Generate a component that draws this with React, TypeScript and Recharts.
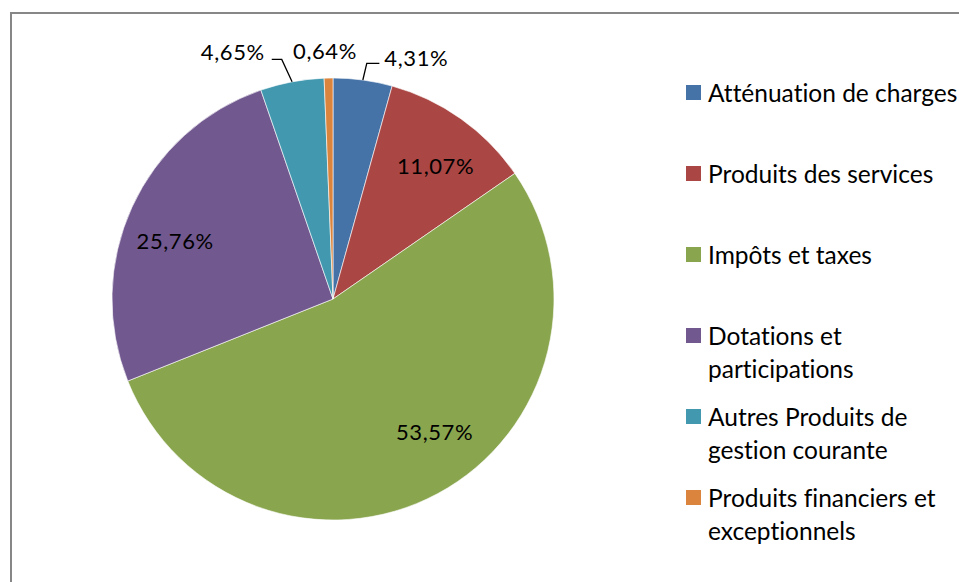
import React from 'react';
import { PieChart, Pie, Cell, Legend } from 'recharts';

const categories = [
  'Atténuation de charges',
  'Produits des services',
  'Impôts et taxes',
  'Dotations et participations',
  'Autres Produits de gestion courante',
  'Produits financiers et exceptionnels',
];
const shares = [4.31, 11.07, 53.57, 25.76, 4.65, 0.64];
const shareLabels = ['4,31%', '11,07%', '53,57%', '25,76%', '4,65%', '0,64%'];
const colors = ['#4572A7', '#AA4643', '#89A54E', '#71588F', '#4198AF', '#DB843D'];

const data = categories.map((name, i) => ({ name, value: shares[i] }));

const FONT = 'Lato, "Open Sans", sans-serif';
const RAD = Math.PI / 180;
const polar = (cx: number, cy: number, r: number, a: number) => ({
  x: cx + r * Math.cos(-a * RAD),
  y: cy + r * Math.sin(-a * RAD),
});

// small angular nudges imitating Excel's "best fit" placement of inside labels
const insideShift: Record<number, number> = { 1: -2.2, 2: 9, 3: 4.6 };

const renderLabel = (props: any) => {
  const { cx, cy, midAngle, outerRadius, index, percent } = props;
  const text = shareLabels[index];
  const common = { fill: '#000', fontFamily: FONT, fontSize: 22, letterSpacing: 0.6 } as any;
  if (percent >= 0.08) {
    const p = polar(cx, cy, outerRadius * 0.76, midAngle + (insideShift[index] || 0));
    return (
      <text key={`l${index}`} x={p.x} y={p.y + 7.5} textAnchor="middle" {...common}>
        {text}
      </text>
    );
  }
  if (percent < 0.01) {
    const p = polar(cx, cy, outerRadius + 27, midAngle);
    return (
      <text key={`l${index}`} x={p.x - 3} y={p.y + 7.5} textAnchor="middle" {...common}>
        {text}
      </text>
    );
  }
  const p0 = polar(cx, cy, outerRadius, midAngle);
  const left = p0.x < cx;
  const p1 = left ? polar(cx, cy, outerRadius + 24, midAngle + 1.4) : polar(cx, cy, outerRadius + 17, midAngle - 0.4);
  const p2 = { x: p1.x + (left ? -10 : 12.6), y: p1.y };
  const tx = p2.x + (left ? -7 : 5);
  const ty = p1.y + (left ? 0.5 : 3);
  return (
    <g key={`l${index}`}>
      <polyline
        points={`${p0.x},${p0.y} ${p1.x},${p1.y} ${p2.x},${p2.y}`}
        fill="none"
        stroke="#000"
        strokeWidth={1.3}
      />
      <text x={tx} y={ty} textAnchor={left ? 'end' : 'start'} {...common}>
        {text}
      </text>
    </g>
  );
};

const renderLegend = (props: any) => {
  const payload = [...(props.payload || [])].sort(
    (a: any, b: any) => categories.indexOf(a.value) - categories.indexOf(b.value)
  );
  return (
    <div
      style={{
        fontFamily: FONT,
        fontSize: 24.5,
        lineHeight: '33px',
        color: '#000',
        fontVariantLigatures: 'none',
      }}
    >
      {payload.map((entry: any, i: number) => (
        <div key={i} style={{ display: 'flex', alignItems: 'flex-start', height: 81 }}>
          <div
            style={{
              width: 15,
              height: 15,
              marginTop: 9,
              marginRight: 7,
              background: entry.color,
              flex: '0 0 auto',
            }}
          />
          <div style={{ width: 256, whiteSpace: 'normal' }}>{entry.value}</div>
        </div>
      ))}
    </div>
  );
};

export default function App() {
  return (
    <div
      style={{
        position: 'fixed',
        left: 0,
        top: 0,
        width: 959,
        height: 582,
        overflow: 'hidden',
        background: '#fff',
      }}
    >
      <div
        style={{
          position: 'absolute',
          left: 10,
          top: 12,
          width: 1000,
          height: 1000,
          border: '2px solid #878787',
        }}
      />
      <div style={{ position: 'absolute', left: 0, top: 0 }}>
        <PieChart width={959} height={582} margin={{ top: 0, right: 0, bottom: 0, left: 0 }}>
          <Pie
            data={data}
            dataKey="value"
            nameKey="name"
            cx={333}
            cy={299}
            outerRadius={221}
            startAngle={90}
            endAngle={-270}
            stroke="#fff"
            strokeWidth={0.6}
            label={renderLabel}
            labelLine={false}
            isAnimationActive={false}
          >
            {data.map((d, i) => (
              <Cell key={d.name} fill={colors[i]} />
            ))}
          </Pie>
          <Legend
            layout="vertical"
            align="right"
            verticalAlign="top"
            content={renderLegend}
            wrapperStyle={{ left: 686, top: 76, width: 280 }}
          />
        </PieChart>
      </div>
    </div>
  );
}
